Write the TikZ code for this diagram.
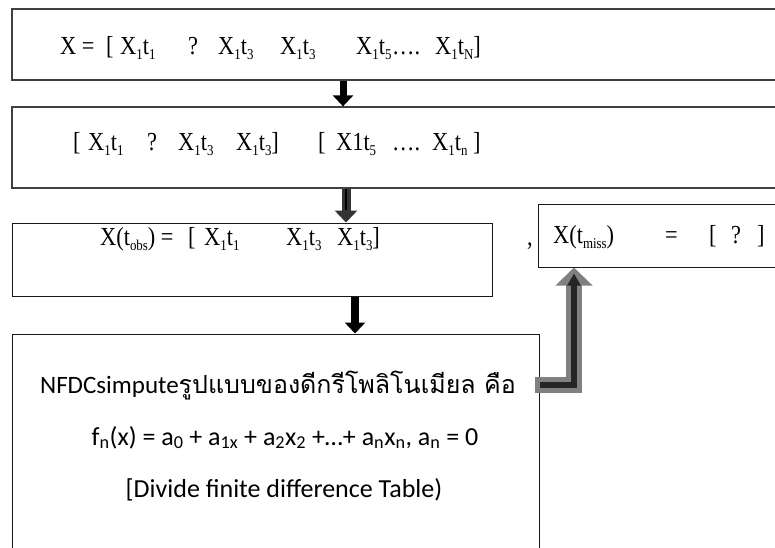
\documentclass[tikz,border=0pt]{standalone}
\usepackage{fontspec}
\usetikzlibrary{arrows.meta}
\newfontfamily\tnr[FakeStretch=0.86]{Liberation Serif}
\newfontfamily\calfont{Carlito}
\newfontfamily\thaifont[Script=Thai]{Loma}
\newcommand\sbx[1]{\raisebox{-5pt}{\fontsize{15}{15}\selectfont #1}}
\newcommand\xt[1]{X\sbx{1}t\sbx{#1}}
\tikzset{
  box/.style={draw=black!75, line width=1.3pt, rectangle, inner sep=0pt},
  thinbox/.style={draw=black!90, line width=1pt, rectangle, inner sep=0pt},
  txt/.style={anchor=base west, inner sep=0pt, font=\tnr\fontsize{26}{30}\selectfont},
  ctxt/.style={anchor=base, inner sep=0pt, font=\calfont\fontsize{26}{30}\selectfont},
  blackarrow/.style={draw=black, line width=7pt, -{Triangle[width=20pt,length=11pt]}},
  grayarrow/.style={draw=black!80, line width=9pt, -{Triangle[width=22pt,length=12pt]}},
  innerline/.style={draw=black, line width=2.5pt},
  outerL/.style={draw=black!50, line width=16pt, line join=miter, -{Triangle[width=36pt,length=18pt]}},
  innerL/.style={draw=black!85, line width=6pt, line join=miter, -{Triangle[width=13pt,length=12pt]}},
}
\begin{document}
\begin{tikzpicture}[x=1pt,y=-1pt]
\useasboundingbox (0,0) rectangle (775,547);
\clip (0,0) rectangle (775,547);
\fill[white] (0,0) rectangle (775,547);
% boxes
\node[box, minimum width=773pt, minimum height=71pt] (b1) at (398.5,44.5) {};
\node[box, minimum width=773pt, minimum height=81pt] (b2) at (398.5,147.5) {};
\node[thinbox, minimum width=480pt, minimum height=73pt] (b3) at (252,259.5) {};
\node[thinbox, minimum width=247pt, minimum height=63pt] (b4) at (661.5,235.5) {};
\node[thinbox, minimum width=527pt, minimum height=226pt] (b5) at (275.5,447) {};
% arrow x positions
\coordinate (ax1) at (343,0);
\coordinate (ax2) at (346,0);
\coordinate (ax3) at (355,0);
\coordinate (axL) at (574,0);
\coordinate (ayL) at (0,385);
\coordinate (Lcorner) at (574,385);
\coordinate (innerTop) at (574,210);
% arrows
\draw[blackarrow] (b1.south -| ax1) -- (b2.north -| ax1);
\draw[grayarrow] (b2.south -| ax2) -- (b3.north -| ax2);
\draw[innerline] (b2.south -| ax2) -- (innerTop -| ax2);
\draw[blackarrow, line width=8pt] (b3.south -| ax3) -- (b5.north -| ax3);
\draw[outerL] ([xshift=-5pt]b5.east |- ayL) -- (Lcorner) -- (b4.south -| axL);
\draw[innerL] (b5.east |- ayL) -- (Lcorner) -- ([yshift=-6pt]b4.south -| axL);
% row 1
\node[txt] (r1a) at (60,54) {X =};
\node[txt] (r1b) at (106,54) {[};
\node[txt] (r1c) at (120,54) {\xt{1}};
\node[txt] (r1d) at (188,54) {?};
\node[txt] (r1e) at (218,54) {\xt{3}};
\node[txt] (r1f) at (280,54) {\xt{3}};
\node[txt] (r1g) at (356,54) {\xt{5}};
\node[txt] (r1h) at (392,54) {….};
\node[txt] (r1i) at (435,54) {\xt{N}]};
% row 2
\node[txt] (r2a) at (73,150) {[};
\node[txt] (r2b) at (88,150) {\xt{1}};
\node[txt] (r2c) at (147,150) {?};
\node[txt] (r2d) at (178,150) {\xt{3}};
\node[txt] (r2e) at (236,150) {\xt{3}]};
\node[txt] (r2f) at (318,150) {[};
\node[txt] (r2g) at (336,150) {X1t\sbx{5}};
\node[txt] (r2h) at (392,150) {….};
\node[txt] (r2i) at (432,150) {\xt{n} ]};
% row 3
\node[txt] (r3a) at (100,245) {X(t\sbx{obs}) =};
\node[txt] (r3b) at (188,245) {[};
\node[txt] (r3c) at (204,245) {\xt{1}};
\node[txt] (r3d) at (286,245) {\xt{3}};
\node[txt] (r3e) at (337,245) {\xt{3}]};
\node[txt] (comma) at (527,245) {,};
\node[txt] (r4a) at (553,243) {X(t\sbx{miss})};
\node[txt] (r4b) at (665,243) {=};
\node[txt] (r4c) at (709,243) {[};
\node[txt] (r4d) at (731,243) {?};
\node[txt] (r4e) at (757,243) {]};
% box 5 text
\node[ctxt, font=\calfont\fontsize{25}{30}\selectfont] (l1) at (278,393) {NFDCsimpute{\thaifont รูปแบบของดีกรีโพลิโนเมียล คือ}};
\node[ctxt] (l2) at (285,445) {f\textsubscript{n}(x) = a\textsubscript{0} + a\textsubscript{1x} + a\textsubscript{2}x\textsubscript{2} +…+ a\textsubscript{n}x\textsubscript{n}, a\textsubscript{n} = 0};
\node[ctxt] (l3) at (284,497) {[Divide finite difference Table)};
\end{tikzpicture}
\end{document}
